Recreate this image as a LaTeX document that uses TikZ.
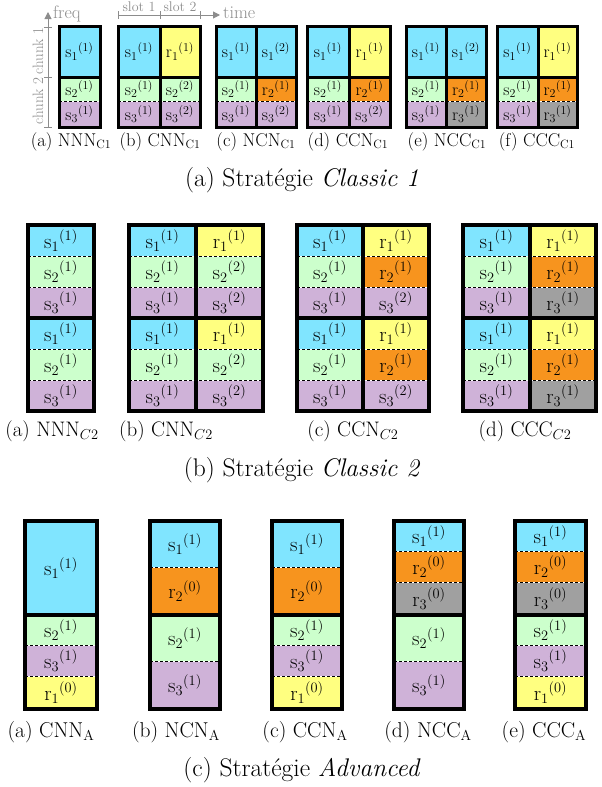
\documentclass[tikz,border=0pt]{standalone}
\usepackage{amsmath}
\usetikzlibrary{arrows.meta}
\definecolor{cy}{RGB}{128,229,255}
\definecolor{ye}{RGB}{255,255,128}
\definecolor{gr}{RGB}{204,255,204}
\definecolor{pu}{RGB}{207,178,216}
\definecolor{orr}{RGB}{247,148,30}
\definecolor{gy}{RGB}{160,160,160}
\definecolor{axg}{RGB}{140,140,140}
\newcommand{\fsz}[1]{\fontsize{#1}{#1}\selectfont}
\newcounter{cc}
\newcommand{\cel}[8]{\fill[#5] (#1,#2) rectangle (#3,#4);
  \stepcounter{cc}\node[celltxt] (cell\thecc) at ({(#1+#3)/2},{(#2+#4)/2}) {${\mathrm{#6}_{#7}}^{(#8)}$};}
\tikzset{
  celltxt/.style={inner sep=0pt},
  dsep/.style={draw=black, line width=0.9pt, dash pattern=on 3pt off 2pt,
     preaction={draw=white, line width=0.9pt, solid}},
  axl/.style={draw=axg, line width=1pt},
  axtxt/.style={text=axg, inner sep=0pt},
  lbl/.style={anchor=base, inner sep=0pt},
}
\begin{document}
\begin{tikzpicture}[x=1pt,y=-1pt]
\useasboundingbox (0,0) rectangle (602,787);
% ================= Section (a) =================
\begin{scope}[celltxt/.append style={font=\fsz{18}}, thk/.style={line width=3pt}]
% box a
\cel{59}{26}{100}{77}{cy}{s}{1}{1}
\cel{59}{77}{100}{101}{gr}{s}{2}{1}
\cel{59}{101}{100}{127}{pu}{s}{3}{1}
\draw[dsep] (59,101) -- (100,101);
\draw[thk] (59,77) -- (100,77);
\draw[thk] (59,26) rectangle (100,127);
% two-column boxes
\foreach \xa/\xm/\xb/\ca/\la/\sa/\pa/\cb/\lb/\sbb/\pb/\cc/\lc/\sc/\pc in {
  118/160/200/ye/r/1/1/gr/s/2/2/pu/s/3/2,
  216/256/296/cy/s/1/2/orr/r/2/1/pu/s/3/2,
  307/349/390/ye/r/1/1/orr/r/2/1/pu/s/3/2,
  406/446/486/cy/s/1/2/orr/r/2/1/gy/r/3/1,
  497/538/577/ye/r/1/1/orr/r/2/1/gy/r/3/1}{
  \cel{\xa}{26}{\xm}{77}{cy}{s}{1}{1}
  \cel{\xa}{77}{\xm}{101}{gr}{s}{2}{1}
  \cel{\xa}{101}{\xm}{127}{pu}{s}{3}{1}
  \cel{\xm}{26}{\xb}{77}{\ca}{\la}{\sa}{\pa}
  \cel{\xm}{77}{\xb}{101}{\cb}{\lb}{\sbb}{\pb}
  \cel{\xm}{101}{\xb}{127}{\cc}{\lc}{\sc}{\pc}
  \draw[dsep] (\xa,101) -- (\xb,101);
  \draw[thk] (\xa,77) -- (\xb,77);
  \draw[thk] (\xm,26) -- (\xm,127);
  \draw[thk] (\xa,26) rectangle (\xb,127);
}
\end{scope}
\begin{scope}[font=\fsz{18.5}]
\node[lbl] (la1) at (71,146) {(a) NNN$_{\mathrm{C1}}$};
\node[lbl] (la2) at (160,146) {(b) CNN$_{\mathrm{C1}}$};
\node[lbl] (la3) at (256,146) {(c) NCN$_{\mathrm{C1}}$};
\node[lbl] (la4) at (348,146) {(d) CCN$_{\mathrm{C1}}$};
\node[lbl] (la5) at (447,146) {(e) NCC$_{\mathrm{C1}}$};
\node[lbl] (la6) at (537,146) {(f) CCC$_{\mathrm{C1}}$};
\end{scope}
% axes
\coordinate (f0) at (48,127); \coordinate (f1) at (48,12);
\draw[axl, -{Triangle[length=7pt,width=7pt]}] (f0) -- (f1);
\foreach \yy in {27,77,127} \draw[axl] (44,\yy) -- (52,\yy);
\node[axtxt, rotate=90, font=\fsz{15}] (ch1) at (38,51) {chunk 1};
\node[axtxt, rotate=90, font=\fsz{15}] (ch2) at (38,101) {chunk 2};
\node[axtxt, anchor=base west, font=\fsz{18}] (freq) at (53,18) {freq};
\coordinate (t0) at (118,15); \coordinate (t1) at (220,15);
\draw[axl, -{Triangle[length=7pt,width=7pt]}] (t0) -- (t1);
\foreach \xx in {118,160,200} \draw[axl] (\xx,11) -- (\xx,19);
\node[axtxt, anchor=base, font=\fsz{14}] (sl1) at (139,11) {slot 1};
\node[axtxt, anchor=base, font=\fsz{14}] (sl2) at (180,11) {slot 2};
\node[axtxt, anchor=base west, font=\fsz{18}] (time) at (223,18) {time};
\node[lbl, font=\fsz{25.5}] (capa) at (302,186) {(a) Strat\'egie \textit{Classic 1}};
% ================= Section (b) =================
\begin{scope}[celltxt/.append style={font=\fsz{21.5}}, thk/.style={line width=4pt}]
\foreach \y in {225,318}{
  \pgfmathsetmacro{\ya}{\y+31}\pgfmathsetmacro{\yb}{\y+62}\pgfmathsetmacro{\yc}{\y+93}
  \cel{28}{\y}{94}{\ya}{cy}{s}{1}{1}
  \cel{28}{\ya}{94}{\yb}{gr}{s}{2}{1}
  \cel{28}{\yb}{94}{\yc}{pu}{s}{3}{1}
  \draw[dsep] (28,\ya) -- (94,\ya);
  \draw[dsep] (28,\yb) -- (94,\yb);
}
\draw[thk] (28,318) -- (94,318);
\draw[thk] (28,225) rectangle (94,411);
\foreach \xa/\xm/\xb/\ca/\la/\sa/\cb/\lb/\sbb/\pb/\cc/\lc/\sc/\pc in {
  129/196/263/ye/r/1/gr/s/2/2/pu/s/3/2,
  297/363/429/ye/r/1/orr/r/2/1/pu/s/3/2,
  463/530/596/ye/r/1/orr/r/2/1/gy/r/3/1}{
  \foreach \y in {225,318}{
    \pgfmathsetmacro{\ya}{\y+31}\pgfmathsetmacro{\yb}{\y+62}\pgfmathsetmacro{\yc}{\y+93}
    \cel{\xa}{\y}{\xm}{\ya}{cy}{s}{1}{1}
    \cel{\xa}{\ya}{\xm}{\yb}{gr}{s}{2}{1}
    \cel{\xa}{\yb}{\xm}{\yc}{pu}{s}{3}{1}
    \cel{\xm}{\y}{\xb}{\ya}{\ca}{\la}{\sa}{1}
    \cel{\xm}{\ya}{\xb}{\yb}{\cb}{\lb}{\sbb}{\pb}
    \cel{\xm}{\yb}{\xb}{\yc}{\cc}{\lc}{\sc}{\pc}
    \draw[dsep] (\xa,\ya) -- (\xb,\ya);
    \draw[dsep] (\xa,\yb) -- (\xb,\yb);
  }
  \draw[thk] (\xa,318) -- (\xb,318);
  \draw[thk] (\xm,225) -- (\xm,411);
  \draw[thk] (\xa,225) rectangle (\xb,411);
}
\end{scope}
\begin{scope}[font=\fsz{21}]
\node[lbl] (lb1) at (52,436) {(a) NNN$_{C2}$};
\node[lbl] (lb2) at (166,436) {(b) CNN$_{C2}$};
\node[lbl] (lb3) at (353,436) {(c) CCN$_{C2}$};
\node[lbl] (lb4) at (525,436) {(d) CCC$_{C2}$};
\end{scope}
\node[lbl, font=\fsz{25.5}] (capb) at (302,476) {(b) Strat\'egie \textit{Classic 2}};
% ================= Section (c) =================
\begin{scope}[celltxt/.append style={font=\fsz{22}}, thk/.style={line width=3.5pt}]
% (a) CNN_A
\cel{25}{521}{97}{615}{cy}{s}{1}{1}
\cel{25}{615}{97}{645}{gr}{s}{2}{1}
\cel{25}{645}{97}{676}{pu}{s}{3}{1}
\cel{25}{676}{97}{709}{ye}{r}{1}{0}
\draw[dsep] (25,645) -- (97,645);
\draw[dsep] (25,676) -- (97,676);
\draw[thk] (25,615) -- (97,615);
\draw[thk] (25,521) rectangle (97,709);
% (b) NCN_A
\cel{150}{521}{220}{567}{cy}{s}{1}{1}
\cel{150}{567}{220}{615}{orr}{r}{2}{0}
\cel{150}{615}{220}{661}{gr}{s}{2}{1}
\cel{150}{661}{220}{709}{pu}{s}{3}{1}
\draw[dsep] (150,567) -- (220,567);
\draw[dsep] (150,661) -- (220,661);
\draw[thk] (150,615) -- (220,615);
\draw[thk] (150,521) rectangle (220,709);
% (c) CCN_A
\cel{272}{521}{342}{567}{cy}{s}{1}{1}
\cel{272}{567}{342}{615}{orr}{r}{2}{0}
\cel{272}{615}{342}{645}{gr}{s}{2}{1}
\cel{272}{645}{342}{676}{pu}{s}{3}{1}
\cel{272}{676}{342}{709}{ye}{r}{1}{0}
\draw[dsep] (272,567) -- (342,567);
\draw[dsep] (272,645) -- (342,645);
\draw[dsep] (272,676) -- (342,676);
\draw[thk] (272,615) -- (342,615);
\draw[thk] (272,521) rectangle (342,709);
% (d) NCC_A
\cel{394}{521}{464}{551}{cy}{s}{1}{1}
\cel{394}{551}{464}{582}{orr}{r}{2}{0}
\cel{394}{582}{464}{615}{gy}{r}{3}{0}
\cel{394}{615}{464}{661}{gr}{s}{2}{1}
\cel{394}{661}{464}{709}{pu}{s}{3}{1}
\draw[dsep] (394,551) -- (464,551);
\draw[dsep] (394,582) -- (464,582);
\draw[dsep] (394,661) -- (464,661);
\draw[thk] (394,615) -- (464,615);
\draw[thk] (394,521) rectangle (464,709);
% (e) CCC_A
\cel{515}{521}{586}{551}{cy}{s}{1}{1}
\cel{515}{551}{586}{582}{orr}{r}{2}{0}
\cel{515}{582}{586}{615}{gy}{r}{3}{0}
\cel{515}{615}{586}{645}{gr}{s}{2}{1}
\cel{515}{645}{586}{676}{pu}{s}{3}{1}
\cel{515}{676}{586}{709}{ye}{r}{1}{0}
\draw[dsep] (515,551) -- (586,551);
\draw[dsep] (515,582) -- (586,582);
\draw[dsep] (515,645) -- (586,645);
\draw[dsep] (515,676) -- (586,676);
\draw[thk] (515,615) -- (586,615);
\draw[thk] (515,521) rectangle (586,709);
\end{scope}
\begin{scope}[font=\fsz{21.5}]
\node[lbl] (lc1) at (51,737) {(a) CNN$_{\mathrm{A}}$};
\node[lbl] (lc2) at (176,737) {(b) NCN$_{\mathrm{A}}$};
\node[lbl] (lc3) at (305,737) {(c) CCN$_{\mathrm{A}}$};
\node[lbl] (lc4) at (428,737) {(d) NCC$_{\mathrm{A}}$};
\node[lbl] (lc5) at (544,737) {(e) CCC$_{\mathrm{A}}$};
\end{scope}
\node[lbl, font=\fsz{25.5}] (capc) at (302,776) {(c) Strat\'egie \textit{Advanced}};
\end{tikzpicture}
\end{document}
